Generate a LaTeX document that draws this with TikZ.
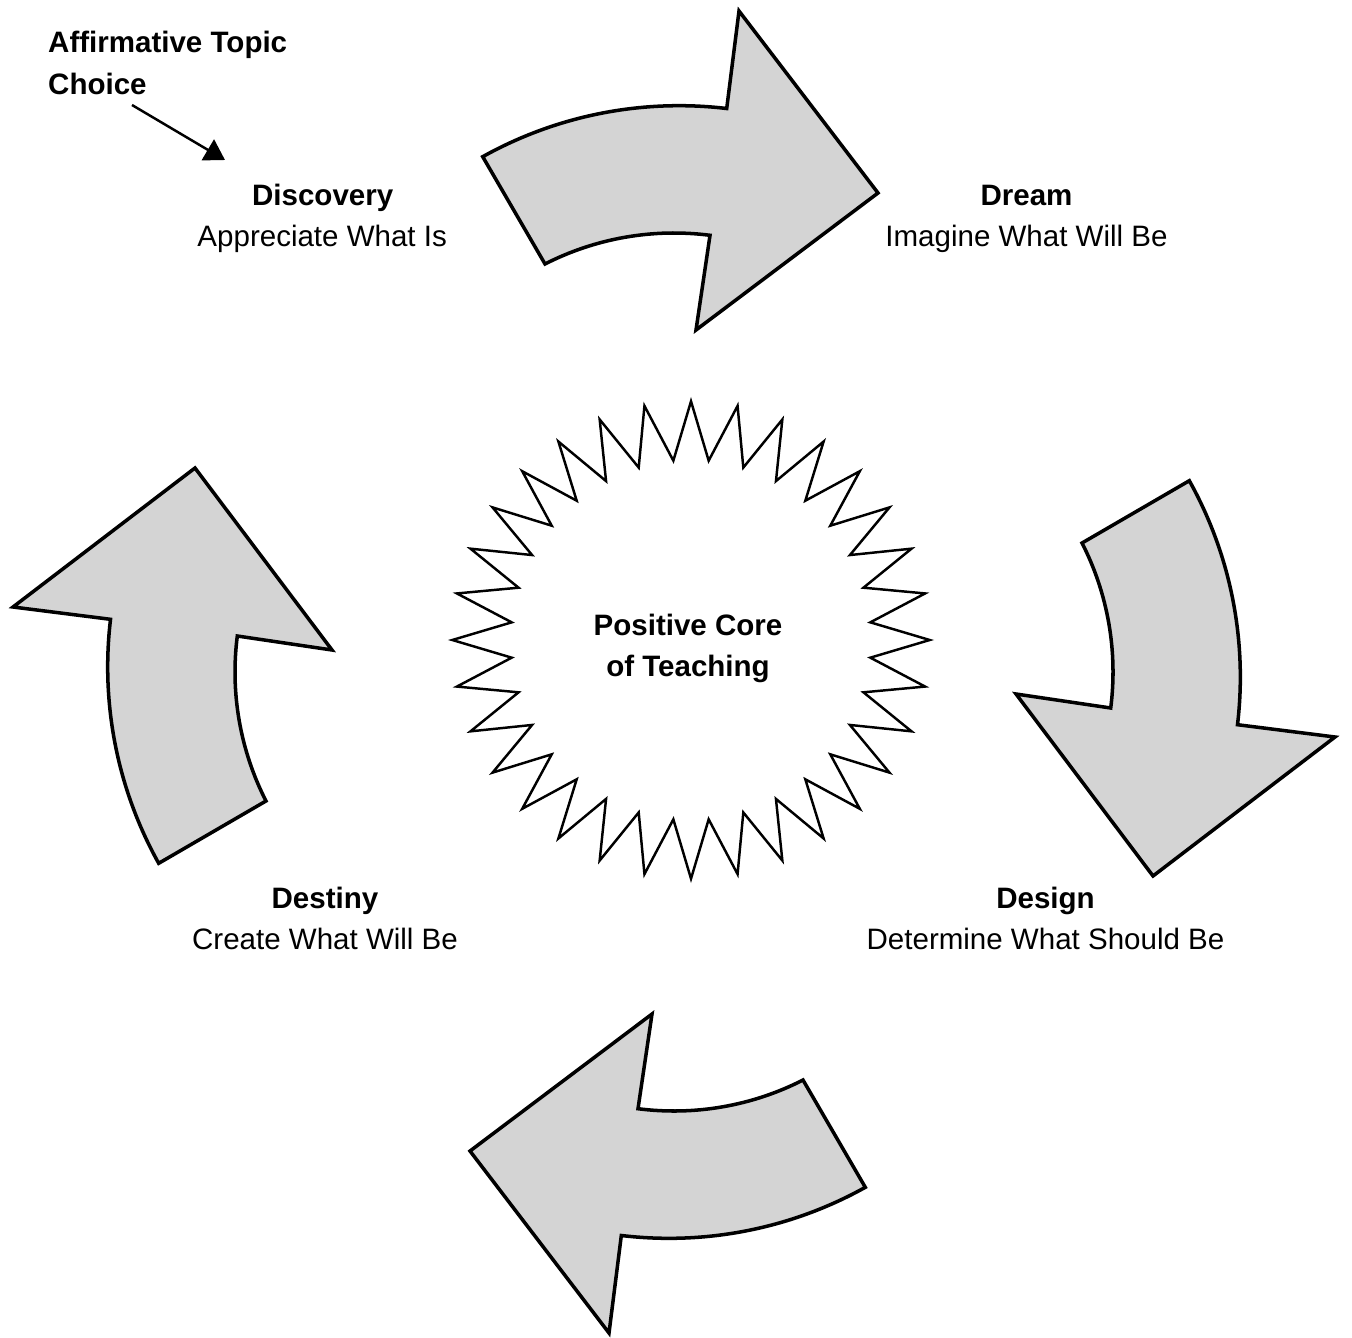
\documentclass[tikz,border=0pt]{standalone}
\usepackage{fontspec}
\setmainfont{Liberation Sans}
\usetikzlibrary{arrows.meta}
\definecolor{arrowfill}{RGB}{212,212,212}
\begin{document}
\begin{tikzpicture}[
  bigarrow/.style={fill=arrowfill, draw=black, line width=1.0pt, line join=miter},
  title/.style={font=\fontsize{8.4}{10}\selectfont\bfseries, inner sep=0pt, anchor=base},
  sub/.style={font=\fontsize{8.4}{10}\selectfont, inner sep=0pt, anchor=base},
  starline/.style={draw=black, line width=0.7pt, fill=white, line join=miter},
  pointer/.style={draw=black, line width=0.7pt, -{Triangle[length=0.2cm,width=0.24cm]}}
]
\useasboundingbox (0,0) rectangle (13.52,-13.37);
% four curved block arrows, 4-fold symmetric about (6.74,-6.72)
\foreach \ang in {0,-90,180,90} {
  \begin{scope}[shift={(6.74,-6.72)}, rotate=\ang]
    \path[bigarrow] (-1.913,5.153) arc[start angle=119.13, end angle=83.21, radius=4.033cm]
      -- (0.65,6.61) -- (2.04,4.79) -- (0.22,3.42) -- (0.36,4.367)
      arc[start angle=82.71, end angle=117.02, radius=2.839cm] -- cycle;
  \end{scope}
}
% central star (32 points)
\draw[starline] plot[samples=65, domain=0:64, variable=\k]
  ({6.91+(2.0945+0.2925*cos(\k*180))*cos(90+\k*5.625)},
   {-6.40+(2.0945+0.2925*cos(\k*180))*sin(90+\k*5.625)}) -- cycle;
\node[title] (core1) at (6.88,-6.35) {Positive Core};
\node[title] (core2) at (6.88,-6.76) {of Teaching};
% labels
\node[title, anchor=base west] (atc1) at (0.475,-0.53) {Affirmative Topic};
\node[title, anchor=base west] (atc2) at (0.475,-0.95) {Choice};
\coordinate (atail) at (1.32,-1.05);
\coordinate (ahead) at (2.25,-1.60);
\draw[pointer] (atail) -- (ahead);
\node[title] (disc) at (3.227,-2.06) {Discovery};
\node[sub] (discsub) at (3.222,-2.47) {Appreciate What Is};
\node[title] (dream) at (10.265,-2.06) {Dream};
\node[sub] (dreamsub) at (10.265,-2.47) {Imagine What Will Be};
\node[title] (design) at (10.455,-9.08) {Design};
\node[sub] (designsub) at (10.455,-9.49) {Determine What Should Be};
\node[title] (destiny) at (3.25,-9.08) {Destiny};
\node[sub] (destinysub) at (3.25,-9.49) {Create What Will Be};
\end{tikzpicture}
\end{document}
